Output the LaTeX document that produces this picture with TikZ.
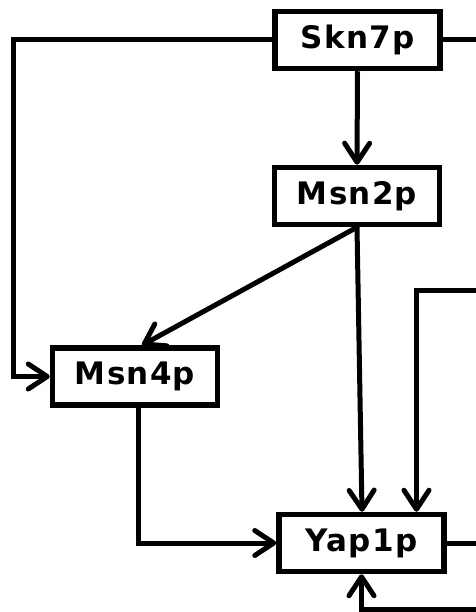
\documentclass[tikz,border=0pt]{standalone}
\usepackage{fontspec}
\newfontfamily\lab[LetterSpace=4]{DejaVu Sans}
\usetikzlibrary{arrows.meta}
\begin{document}
\begin{tikzpicture}[x=1pt,y=-1pt,
  gene/.style={draw, line width=5.5pt, minimum width=165pt, minimum height=57pt, inner sep=0pt, font=\lab\bfseries\fontsize{31}{33}\selectfont},
  conn/.style={line width=5pt},
  arr/.style={conn, -{Straight Barb[length=19pt,width=25pt,round]}}]
\useasboundingbox (0,0) rectangle (475,612);
\node[gene] (skn) at (357.5,40) {Skn7p};
\node[gene] (msn2) at (357,196) {Msn2p};
\node[gene] (msn4) at (135,376.5) {Msn4p};
\node[gene] (yap) at (361.5,543) {Yap1p};
\coordinate (lc) at (13,40);
\coordinate (r1) at (476,40);
\coordinate (r2) at (476,290);
\coordinate (r3) at (476,543);
\coordinate (r4) at (476,609);
\draw[arr] (skn.west) -- (lc) |- (msn4.west);
\draw[conn] (skn.east) -- (r1);
\draw[arr] (skn.south) -- (msn2.north);
\draw[arr] (msn2.south) -- ([xshift=7pt]msn4.north);
\draw[arr] (msn2.south) -- ([xshift=0.5pt]yap.north);
\draw[arr] ([xshift=3pt]msn4.south) |- (yap.west);
\draw[arr] (r2) -| ([xshift=55pt]yap.north);
\draw[conn] (yap.east) -- (r3);
\draw[arr] (r4) -| (yap.south);
\end{tikzpicture}
\end{document}
